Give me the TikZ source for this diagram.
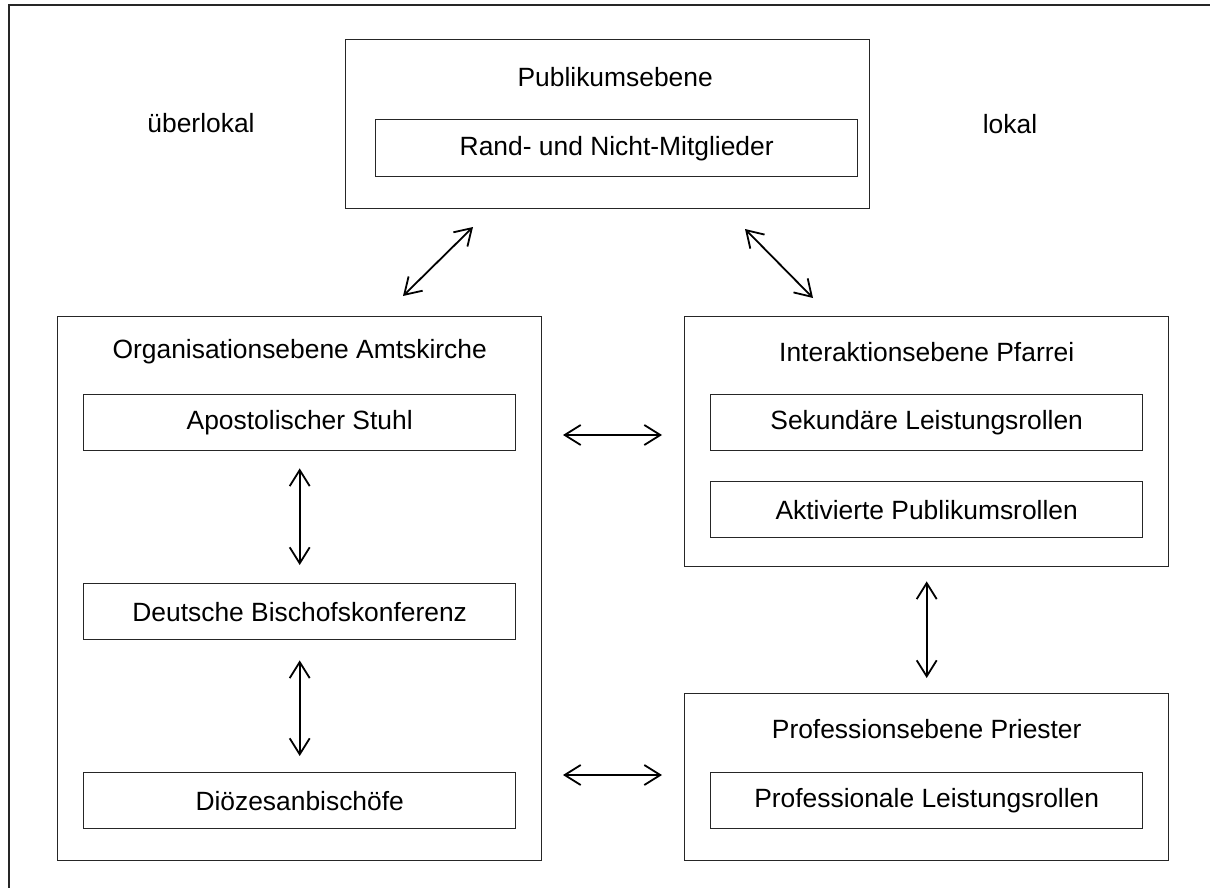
\documentclass[tikz,border=0pt]{standalone}
\usepackage{fontspec}
\setmainfont{Liberation Sans}
\usetikzlibrary{positioning,arrows.meta}
\tikzset{
  level/.style={draw=black!85, line width=0.7pt, anchor=north west, inner sep=0pt},
  role/.style={draw=black!85, line width=0.7pt, minimum width=216pt, minimum height=28pt, inner sep=0pt, font=\fontsize{13.2}{16}\selectfont},
  ttl/.style={font=\fontsize{13.2}{16}\selectfont, inner sep=0pt},
  dbl/.style={{Straight Barb[length=8pt,width=10pt]}-{Straight Barb[length=8pt,width=10pt]}, line width=0.9pt},
}

\begin{document}
\begin{tikzpicture}[x=0.5pt, y=-0.5pt]
\useasboundingbox (0,0) rectangle (1210,888);
\draw[line width=1pt, black!85] (9,5) rectangle (1230,910);
% levels
\node[level, minimum width=262pt, minimum height=84.5pt] (pub) at (345,39) {};
\node[level, minimum width=242pt, minimum height=272pt] (org) at (57,316) {};
\node[level, minimum width=242pt, minimum height=125pt] (pfarrei) at (684,316) {};
\node[level, minimum width=242pt, minimum height=83.5pt] (priester) at (684,693) {};
\node[ttl] (pubttl) at ([xshift=3.75pt, yshift=-19pt]pub.north) {Publikumsebene};
\node[ttl] (orgttl) at ([yshift=-18pt]org.north) {Organisationsebene Amtskirche};
\node[ttl] (pfarreittl) at ([yshift=-18pt]pfarrei.north) {Interaktionsebene Pfarrei};
\node[ttl] (priesterttl) at ([yshift=-18pt]priester.north) {Professionsebene Priester};
% roles
\node[role, minimum width=241pt, minimum height=28.5pt, below=40pt of pub.north, xshift=4.5pt] (rand) {Rand- und Nicht-Mitglieder};
\node[role, below=39pt of org.north] (apost) {Apostolischer Stuhl};
\node[role, below=133.5pt of org.north] (dbk) {Deutsche Bischofskonferenz};
\node[role, below=228pt of org.north] (dioez) {Diözesanbischöfe};
\node[role, below=39pt of pfarrei.north] (sek) {Sekundäre Leistungsrollen};
\node[role, below=82.5pt of pfarrei.north] (akt) {Aktivierte Publikumsrollen};
\node[role, below=39.5pt of priester.north] (prof) {Professionale Leistungsrollen};
\node[ttl] (ueber) at (201,123) {überlokal};
\node[ttl] (lokal) at (1010,124) {lokal};
% connectors
\coordinate (dl1) at (473,227); \coordinate (dl2) at (403,296);
\coordinate (dr1) at (745,229); \coordinate (dr2) at (813,298);
\coordinate (hu1) at (563,435); \coordinate (hu2) at (662,435);
\coordinate (hl1) at (563,775); \coordinate (hl2) at (662,775);
\draw[dbl] (dl1) -- (dl2);
\draw[dbl] (dr1) -- (dr2);
\draw[dbl] (hu1) -- (hu2);
\draw[dbl] (hl1) -- (hl2);
\draw[dbl, shorten <=8.5pt, shorten >=9pt] (apost.south) -- (dbk.north);
\draw[dbl, shorten <=10pt, shorten >=8pt] (dbk.south) -- (dioez.north);
\draw[dbl, shorten <=7pt, shorten >=7.5pt] (pfarrei.south) -- (priester.north);
\end{tikzpicture}
\end{document}
